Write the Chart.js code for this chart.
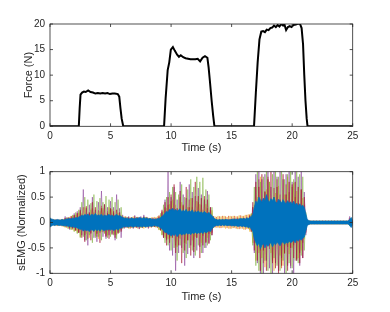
<!DOCTYPE html>
<html>
<head>
<meta charset="utf-8">
<script src="https://cdn.jsdelivr.net/npm/chart.js@4.4.1/dist/chart.umd.min.js"></script>
<style>
    html, body { margin: 0; padding: 0; background: #fff; }
    .box { position: absolute; left: 0; width: 390px; height: 156px; }
    #topBox { top: 0; }
    #bottomBox { top: 156px; }
</style>
</head>
<body>
<div class="box" id="topBox"><canvas id="forceChart" width="390" height="156"></canvas></div>
<div class="box" id="bottomBox"><canvas id="emgChart" width="390" height="156"></canvas></div>
<script>
// Force trace (N) vs time (s)
const forceTime = [0, 2.38, 2.45, 2.52, 2.65, 2.8, 2.95, 3.15, 3.35, 3.55, 3.75, 3.95, 4.15, 4.35, 4.55, 4.75, 4.95, 5.15, 5.35, 5.6, 5.72, 5.82, 5.92, 6.05,
    9.42, 9.55, 9.72, 9.85, 9.98, 10.15, 10.3, 10.5, 10.65, 10.8, 11.0, 11.2, 11.4, 11.6, 11.8, 12.0, 12.2, 12.4, 12.6, 12.8, 13.0, 13.1, 13.2, 13.35, 13.48, 13.58,
    16.85, 17.0, 17.15, 17.3, 17.45, 17.6, 17.75, 17.9, 18.05, 18.2, 18.35, 18.5, 18.65, 18.8, 18.95, 19.1, 19.25, 19.35, 19.5, 19.65, 19.8, 19.95, 20.1, 20.3, 20.5, 20.65, 20.78, 20.9, 21.0, 21.1, 21.2, 21.27, 25];
const forceValue = [0, 0, 3.5, 6.2, 6.6, 6.8, 6.7, 7.0, 6.7, 6.6, 6.4, 6.5, 6.4, 6.5, 6.4, 6.5, 6.3, 6.4, 6.4, 6.3, 5.8, 3.5, 1.5, 0,
    0, 5.5, 11.0, 12.5, 15.0, 15.5, 14.8, 14.0, 13.6, 13.9, 13.5, 13.3, 13.2, 13.1, 13.1, 13.1, 13.2, 12.7, 13.4, 13.7, 13.4, 11.5, 9.0, 5.0, 2.0, 0,
    0, 6.5, 12.5, 17.0, 18.5, 18.6, 18.4, 18.9, 18.8, 19.2, 19.3, 19.7, 19.4, 19.8, 19.5, 20.0, 19.7, 20.0, 18.8, 19.4, 19.6, 19.4, 19.8, 19.9, 20.1, 20.0, 19.2, 16.0, 10.0, 5.0, 1.5, 0, 0];

// sEMG channels, one sample every 0.125 s from 0 to 25 s (each row = 2.5 s)
const emgStep = 0.125;
const blueHi = [
    0.09, 0.07, 0.06, 0.05, 0.05, 0.06, 0.05, 0.05, 0.06, 0.05, 0.06, 0.07, 0.07, 0.08, 0.07, 0.09, 0.08, 0.10, 0.09, 0.11,
    0.12, 0.15, 0.13, 0.16, 0.14, 0.17, 0.13, 0.15, 0.16, 0.14, 0.18, 0.13, 0.15, 0.14, 0.16, 0.12, 0.15, 0.13, 0.14, 0.16,
    0.13, 0.15, 0.12, 0.14, 0.16, 0.13, 0.14, 0.12, 0.10, 0.09, 0.08, 0.09, 0.07, 0.08, 0.09, 0.08, 0.07, 0.09, 0.08, 0.10,
    0.09, 0.08, 0.10, 0.08, 0.09, 0.07, 0.08, 0.07, 0.06, 0.07, 0.06, 0.08, 0.07, 0.10, 0.12, 0.15, 0.18, 0.22, 0.20, 0.26,
    0.24, 0.28, 0.23, 0.26, 0.22, 0.25, 0.27, 0.21, 0.24, 0.22, 0.26, 0.20, 0.23, 0.21, 0.25, 0.19, 0.22, 0.20, 0.23, 0.19,
    0.21, 0.18, 0.22, 0.19, 0.17, 0.20, 0.16, 0.14, 0.10, 0.07, 0.06, 0.05, 0.06, 0.05, 0.06, 0.05, 0.06, 0.06, 0.05, 0.06,
    0.06, 0.07, 0.06, 0.07, 0.06, 0.07, 0.08, 0.07, 0.08, 0.07, 0.09, 0.08, 0.10, 0.12, 0.16, 0.30, 0.42, 0.38, 0.50, 0.45,
    0.40, 0.48, 0.42, 0.55, 0.44, 0.40, 0.47, 0.43, 0.50, 0.41, 0.38, 0.46, 0.42, 0.39, 0.45, 0.40, 0.37, 0.43, 0.38, 0.41,
    0.36, 0.42, 0.35, 0.38, 0.33, 0.37, 0.32, 0.34, 0.30, 0.18, 0.06, 0.04, 0.03, 0.03, 0.03, 0.03, 0.03, 0.03, 0.03, 0.03,
    0.03, 0.03, 0.03, 0.03, 0.03, 0.03, 0.03, 0.03, 0.03, 0.03, 0.03, 0.03, 0.03, 0.03, 0.03, 0.03, 0.03, 0.03, 0.06, 0.10,
    0.04];
const blueLo = [
    -0.09, -0.07, -0.05, -0.06, -0.05, -0.05, -0.06, -0.05, -0.06, -0.06, -0.07, -0.06, -0.08, -0.07, -0.09, -0.08, -0.10, -0.09, -0.11, -0.12,
    -0.14, -0.13, -0.17, -0.14, -0.16, -0.15, -0.18, -0.14, -0.15, -0.17, -0.13, -0.16, -0.14, -0.17, -0.13, -0.15, -0.16, -0.14, -0.15, -0.13,
    -0.15, -0.13, -0.16, -0.14, -0.13, -0.15, -0.12, -0.11, -0.10, -0.08, -0.09, -0.08, -0.09, -0.07, -0.08, -0.09, -0.08, -0.07, -0.09, -0.08,
    -0.08, -0.09, -0.07, -0.09, -0.08, -0.08, -0.07, -0.08, -0.07, -0.06, -0.07, -0.07, -0.08, -0.11, -0.13, -0.16, -0.20, -0.19, -0.24, -0.22,
    -0.27, -0.23, -0.26, -0.22, -0.28, -0.24, -0.21, -0.25, -0.22, -0.24, -0.20, -0.23, -0.21, -0.24, -0.20, -0.22, -0.19, -0.22, -0.20, -0.21,
    -0.19, -0.22, -0.18, -0.20, -0.19, -0.16, -0.18, -0.13, -0.09, -0.07, -0.06, -0.06, -0.05, -0.06, -0.05, -0.06, -0.05, -0.06, -0.06, -0.05,
    -0.07, -0.06, -0.07, -0.06, -0.08, -0.07, -0.07, -0.08, -0.07, -0.09, -0.08, -0.10, -0.09, -0.13, -0.18, -0.32, -0.40, -0.46, -0.40, -0.52,
    -0.45, -0.41, -0.50, -0.43, -0.47, -0.42, -0.40, -0.48, -0.41, -0.44, -0.39, -0.42, -0.46, -0.40, -0.38, -0.43, -0.39, -0.41, -0.37, -0.40,
    -0.38, -0.35, -0.40, -0.33, -0.37, -0.32, -0.35, -0.31, -0.29, -0.17, -0.06, -0.04, -0.03, -0.03, -0.03, -0.03, -0.03, -0.03, -0.03, -0.03,
    -0.03, -0.03, -0.03, -0.03, -0.03, -0.03, -0.03, -0.03, -0.03, -0.03, -0.03, -0.03, -0.03, -0.03, -0.03, -0.03, -0.03, -0.03, -0.06, -0.10,
    -0.04];
const purpleCh = [
    0.05, -0.06, 0.04, -0.05, 0.06, -0.04, 0.05, -0.06, 0.05, -0.07, 0.12, -0.08, 0.10, -0.14, 0.09, -0.12, 0.18, -0.15, 0.22, -0.20,
    0.30, -0.25, 0.65, -0.35, 0.28, -0.45, 0.35, -0.22, 0.50, -0.30, 0.25, -0.38, 0.40, -0.20, 0.62, -0.28, 0.35, -0.32, 0.30, -0.25,
    0.42, -0.22, 0.30, -0.35, 0.55, -0.20, 0.28, -0.30, 0.15, -0.12, 0.10, -0.08, 0.12, -0.10, 0.08, -0.12, 0.14, -0.09, 0.10, -0.13,
    0.12, -0.10, 0.15, -0.08, 0.10, -0.12, 0.08, -0.07, 0.09, -0.08, 0.07, -0.09, 0.10, -0.15, 0.20, -0.30, 0.45, -0.35, 1.00, -0.55,
    0.50, -0.65, 0.70, -0.95, 0.45, -0.60, 0.80, -0.50, 0.55, -0.85, 0.48, -0.62, 0.75, -0.45, 0.60, -0.70, 0.52, -0.55, 0.68, -0.48,
    0.55, -0.60, 0.45, -0.50, 0.62, -0.40, 0.30, -0.25, 0.12, -0.08, 0.06, -0.07, 0.05, -0.06, 0.07, -0.05, 0.06, -0.07, 0.05, -0.06,
    0.07, -0.06, 0.08, -0.07, 0.06, -0.08, 0.07, -0.06, 0.09, -0.08, 0.10, -0.09, 0.12, -0.15, 0.30, -0.60, 0.95, -0.80, 1.10, -1.05,
    0.85, -1.10, 0.95, -0.75, 1.10, -0.90, 0.70, -1.10, 1.05, -0.80, 0.90, -0.95, 1.10, -0.70, 0.85, -1.05, 0.95, -0.85, 1.10, -0.90,
    0.80, -1.05, 1.10, -0.75, 0.90, -0.85, 1.05, -0.70, 0.60, -0.25, 0.06, -0.04, 0.03, -0.03, 0.03, -0.03, 0.03, -0.03, 0.03, -0.03,
    0.03, -0.03, 0.03, -0.03, 0.03, -0.03, 0.03, -0.03, 0.03, -0.03, 0.03, -0.03, 0.03, -0.03, 0.03, -0.03, 0.03, -0.03, 0.12, -0.08,
    0.04];
const greenCh = [
    -0.05, 0.04, -0.05, 0.06, -0.04, 0.05, -0.06, 0.05, -0.07, 0.06, -0.09, 0.10, -0.12, 0.09, -0.14, 0.15, -0.18, 0.20, -0.22, 0.25,
    -0.30, 0.40, -0.28, 0.50, -0.35, 0.45, -0.25, 0.38, -0.40, 0.55, -0.30, 0.42, -0.28, 0.48, -0.35, 0.40, -0.22, 0.52, -0.30, 0.45,
    -0.28, 0.50, -0.25, 0.40, -0.32, 0.45, -0.20, 0.30, -0.12, 0.10, -0.09, 0.10, -0.11, 0.08, -0.10, 0.09, -0.08, 0.10, -0.09, 0.08,
    -0.10, 0.08, -0.09, 0.10, -0.08, 0.09, -0.07, 0.08, -0.08, 0.07, -0.09, 0.08, -0.14, 0.18, -0.25, 0.35, -0.40, 0.50, -0.45, 0.60,
    -0.55, 0.70, -0.50, 0.60, -0.75, 0.55, -0.45, 0.75, -0.60, 0.50, -0.70, 0.65, -0.50, 0.85, -0.55, 0.70, -0.65, 0.90, -0.45, 0.80,
    -0.60, 0.88, -0.50, 0.65, -0.45, 0.55, -0.35, 0.30, -0.10, 0.07, -0.06, 0.05, -0.07, 0.06, -0.05, 0.07, -0.06, 0.05, -0.07, 0.06,
    -0.06, 0.07, -0.08, 0.06, -0.07, 0.08, -0.06, 0.09, -0.08, 0.07, -0.10, 0.09, -0.14, 0.18, -0.45, 0.70, -0.85, 1.10, -0.95, 0.80,
    -1.10, 0.90, -0.75, 1.10, -0.95, 0.80, -1.10, 0.95, -0.70, 1.05, -0.85, 0.90, -0.95, 1.10, -0.75, 0.85, -1.00, 0.95, -0.80, 1.05,
    -0.90, 0.85, -0.75, 1.10, -0.80, 0.95, -0.65, 0.90, -0.55, 0.20, -0.05, 0.03, -0.03, 0.03, -0.03, 0.03, -0.03, 0.03, -0.03, 0.03,
    -0.03, 0.03, -0.03, 0.03, -0.03, 0.03, -0.03, 0.03, -0.03, 0.03, -0.03, 0.03, -0.03, 0.03, -0.03, 0.03, -0.03, 0.03, -0.07, 0.09,
    -0.04];
const redCh = [
    0.04, -0.03, 0.05, -0.04, 0.03, -0.05, 0.04, -0.05, 0.06, -0.05, 0.08, -0.07, 0.09, -0.10, 0.12, -0.11, 0.14, -0.16, 0.18, -0.20,
    0.25, -0.30, 0.12, -0.38, 0.32, -0.15, 0.20, -0.35, 0.40, -0.18, 0.30, -0.22, 0.15, -0.40, 0.28, -0.12, 0.36, -0.28, 0.18, -0.32,
    0.28, -0.24, 0.22, -0.30, 0.25, -0.22, 0.20, -0.18, 0.10, -0.09, 0.08, -0.10, 0.09, -0.08, 0.10, -0.09, 0.08, -0.10, 0.09, -0.08,
    0.08, -0.09, 0.10, -0.08, 0.09, -0.07, 0.08, -0.09, 0.07, -0.08, 0.08, -0.07, 0.12, -0.15, 0.25, -0.30, 0.40, -0.45, 0.50, -0.40,
    0.55, -0.30, 0.75, -0.60, 0.28, -0.45, 0.62, -0.80, 0.35, -0.55, 0.70, -0.35, 0.30, -0.65, 0.48, -0.58, 0.80, -0.30, 0.52, -0.70,
    0.48, -0.45, 0.52, -0.40, 0.45, -0.42, 0.30, -0.25, 0.09, -0.07, 0.06, -0.05, 0.06, -0.07, 0.05, -0.06, 0.07, -0.05, 0.06, -0.07,
    0.06, -0.07, 0.07, -0.06, 0.08, -0.07, 0.07, -0.08, 0.09, -0.08, 0.09, -0.10, 0.14, -0.18, 0.40, -0.55, 0.80, -0.75, 0.70, -0.95,
    0.95, -0.55, 0.60, -0.95, 0.85, -0.45, 1.05, -0.80, 0.50, -0.90, 0.70, -1.05, 0.45, -0.85, 0.95, -0.60, 0.55, -0.95, 0.80, -0.50,
    0.75, -0.70, 0.80, -0.75, 0.70, -0.80, 0.65, -0.70, 0.50, -0.20, 0.05, -0.03, 0.03, -0.03, 0.03, -0.03, 0.03, -0.03, 0.03, -0.03,
    0.03, -0.03, 0.03, -0.03, 0.03, -0.03, 0.03, -0.03, 0.03, -0.03, 0.03, -0.03, 0.03, -0.03, 0.03, -0.03, 0.03, -0.03, 0.08, -0.06,
    0.04];
const orangeCh = [
    0.06, -0.05, 0.07, -0.06, 0.06, -0.07, 0.06, -0.06, 0.07, -0.08, 0.09, -0.10, 0.10, -0.12, 0.13, -0.14, 0.15, -0.16, 0.18, -0.20,
    0.22, -0.14, 0.30, -0.25, 0.12, -0.32, 0.18, -0.20, 0.28, -0.12, 0.16, -0.28, 0.24, -0.15, 0.33, -0.19, 0.14, -0.26, 0.22, -0.17,
    0.27, -0.13, 0.18, -0.24, 0.12, -0.20, 0.15, -0.15, 0.12, -0.11, 0.12, -0.10, 0.11, -0.12, 0.10, -0.11, 0.12, -0.10, 0.11, -0.12,
    0.10, -0.11, 0.12, -0.10, 0.11, -0.10, 0.09, -0.10, 0.10, -0.09, 0.10, -0.11, 0.14, -0.16, 0.22, -0.25, 0.30, -0.32, 0.35, -0.30,
    0.42, -0.22, 0.28, -0.45, 0.18, -0.30, 0.50, -0.25, 0.32, -0.40, 0.20, -0.35, 0.45, -0.18, 0.30, -0.48, 0.24, -0.30, 0.40, -0.22,
    0.35, -0.26, 0.20, -0.38, 0.28, -0.22, 0.25, -0.20, 0.12, -0.10, 0.11, -0.10, 0.12, -0.11, 0.13, -0.10, 0.12, -0.11, 0.13, -0.12,
    0.12, -0.11, 0.13, -0.12, 0.12, -0.13, 0.14, -0.12, 0.13, -0.14, 0.15, -0.13, 0.16, -0.18, 0.30, -0.40, 0.70, -0.35, 0.85, -0.55,
    0.45, -0.80, 0.62, -0.35, 0.90, -0.52, 0.40, -0.75, 0.68, -0.45, 0.85, -0.30, 0.55, -0.90, 0.40, -0.62, 0.75, -0.48, 0.60, -0.85,
    0.70, -0.45, 0.50, -0.72, 0.38, -0.60, 0.65, -0.40, 0.35, -0.15, 0.05, -0.04, 0.04, -0.04, 0.04, -0.04, 0.04, -0.04, 0.04, -0.04,
    0.04, -0.04, 0.04, -0.04, 0.04, -0.04, 0.04, -0.04, 0.04, -0.04, 0.04, -0.04, 0.04, -0.04, 0.04, -0.04, 0.04, -0.04, 0.07, -0.06,
    0.04];
const yellowCh = [
    -0.06, 0.07, -0.06, 0.05, -0.07, 0.06, -0.07, 0.06, -0.08, 0.07, -0.10, 0.09, -0.12, 0.11, -0.14, 0.13, -0.17, 0.15, -0.20, 0.19,
    -0.28, 0.18, -0.15, 0.30, -0.22, 0.12, -0.30, 0.25, -0.14, 0.20, -0.26, 0.15, -0.32, 0.22, -0.18, 0.28, -0.20, 0.13, -0.25, 0.30,
    -0.16, 0.26, -0.22, 0.14, -0.25, 0.19, -0.16, 0.15, -0.11, 0.12, -0.10, 0.11, -0.12, 0.10, -0.11, 0.12, -0.10, 0.11, -0.12, 0.10,
    -0.11, 0.10, -0.12, 0.11, -0.10, 0.09, -0.10, 0.10, -0.09, 0.11, -0.10, 0.12, -0.15, 0.14, -0.24, 0.22, -0.30, 0.28, -0.33, 0.36,
    -0.30, 0.45, -0.20, 0.35, -0.48, 0.22, -0.32, 0.40, -0.25, 0.18, -0.42, 0.30, -0.20, 0.48, -0.35, 0.25, -0.28, 0.42, -0.18, 0.36,
    -0.40, 0.25, -0.22, 0.36, -0.30, 0.20, -0.22, 0.24, -0.11, 0.12, -0.10, 0.13, -0.11, 0.12, -0.10, 0.13, -0.12, 0.11, -0.12, 0.13,
    -0.12, 0.13, -0.11, 0.12, -0.13, 0.14, -0.12, 0.13, -0.14, 0.15, -0.13, 0.16, -0.18, 0.17, -0.40, 0.35, -0.75, 0.50, -0.60, 0.90,
    -0.70, 0.40, -0.88, 0.65, -0.35, 0.80, -0.60, 0.45, -0.95, 0.58, -0.40, 0.72, -0.65, 0.35, -0.85, 0.55, -0.45, 0.90, -0.62, 0.40,
    -0.50, 0.78, -0.40, 0.62, -0.70, 0.35, -0.55, 0.48, -0.32, 0.14, -0.04, 0.04, -0.04, 0.04, -0.04, 0.04, -0.04, 0.04, -0.04, 0.04,
    -0.04, 0.04, -0.04, 0.04, -0.04, 0.04, -0.04, 0.04, -0.04, 0.04, -0.04, 0.04, -0.04, 0.04, -0.04, 0.04, -0.04, 0.04, -0.06, 0.07,
    -0.04];

const timeTicks = [0, 5, 10, 15, 20, 25];

const axisColor = '#262626';
const fontFamily = '"Liberation Sans", Arial, sans-serif';

function toPoints(xs, ys) {
    return ys.map((y, i) => ({ x: xs[i], y: y }));
}
function emgPoints(ys) {
    return ys.map((y, i) => ({ x: i * emgStep, y: y }));
}

// MATLAB-like box with inward ticks on all four sides
const boxPlugin = {
    id: 'matlabBox',
    afterDatasetsDraw(chart) {
        const ctx = chart.ctx;
        const a = chart.chartArea;
        const xs = chart.scales.x, ys = chart.scales.y;
        ctx.save();
        ctx.strokeStyle = axisColor;
        ctx.lineWidth = 0.8;
        ctx.strokeRect(a.left, a.top, a.right - a.left, a.bottom - a.top);
        const len = 3;
        ctx.beginPath();
        xs.ticks.forEach(t => {
            const px = xs.getPixelForValue(t.value);
            ctx.moveTo(px, a.bottom); ctx.lineTo(px, a.bottom - len);
            ctx.moveTo(px, a.top); ctx.lineTo(px, a.top + len);
        });
        ys.ticks.forEach(t => {
            const py = ys.getPixelForValue(t.value);
            ctx.moveTo(a.left, py); ctx.lineTo(a.left + len, py);
            ctx.moveTo(a.right, py); ctx.lineTo(a.right - len, py);
        });
        ctx.stroke();
        ctx.restore();
    }
};

function makeScales(yMin, yMax, yStep, yTitle, yTitlePad, xTitlePad) {
    return {
        x: {
            type: 'linear', min: 0, max: 25,
            afterBuildTicks: s => { s.ticks = timeTicks.map(v => ({ value: v })); },
            grid: { display: false, drawTicks: false },
            border: { display: false },
            ticks: { color: axisColor, font: { family: fontFamily, size: 10 }, padding: 4, maxRotation: 0 },
            title: { display: true, text: 'Time (s)', color: axisColor, font: { family: fontFamily, size: 11 }, padding: { top: 1, bottom: xTitlePad } }
        },
        y: {
            type: 'linear', min: yMin, max: yMax,
            ticks: { stepSize: yStep, color: axisColor, font: { family: fontFamily, size: 10 }, padding: 5, callback: v => String(v) },
            grid: { display: false, drawTicks: false },
            border: { display: false },
            title: { display: true, text: yTitle, color: axisColor, font: { family: fontFamily, size: 11 }, padding: { top: yTitlePad, bottom: 0 } },
            afterFit: s => { s.width = 50; }
        }
    };
}

const forceScales = makeScales(0, 20, 5, 'Force (N)', 22, 1);
forceScales.x.afterFit = s => { s.height = 29.7; };

new Chart(document.getElementById('forceChart'), {
    type: 'line',
    data: {
        datasets: [{
            data: toPoints(forceTime, forceValue),
            borderColor: '#000000',
            borderWidth: 2,
            pointRadius: 0,
            tension: 0
        }]
    },
    options: {
        responsive: false,
        animation: false,
        layout: { padding: { top: 24, right: 37.3, left: 0, bottom: 0 } },
        plugins: { legend: { display: false }, tooltip: { enabled: false } },
        scales: forceScales
    },
    plugins: [boxPlugin]
});

const emgScales = makeScales(-1, 1, 0.5, 'sEMG (Normalized)', 15, 8);
emgScales.x.afterFit = s => { s.height = 38.7; };

function emgLine(values, color) {
    return { data: emgPoints(values), borderColor: color, borderWidth: 0.5, pointRadius: 0, tension: 0, fill: false };
}

new Chart(document.getElementById('emgChart'), {
    type: 'line',
    data: {
        datasets: [
            { data: emgPoints(blueHi), borderColor: '#0072BD', backgroundColor: '#0072BD', borderWidth: 0.7, pointRadius: 0, tension: 0, fill: '+1' },
            { data: emgPoints(blueLo), borderColor: '#0072BD', borderWidth: 0.7, pointRadius: 0, tension: 0, fill: false },
            emgLine(redCh, '#A2142F'),
            emgLine(greenCh, '#77AC30'),
            emgLine(purpleCh, '#7E2F8E'),
            emgLine(yellowCh, '#EDB120'),
            emgLine(orangeCh, '#D95319')
        ]
    },
    options: {
        responsive: false,
        animation: false,
        layout: { padding: { top: 15.7, right: 37.3, left: 0, bottom: 0 } },
        plugins: { legend: { display: false }, tooltip: { enabled: false } },
        scales: emgScales
    },
    plugins: [boxPlugin]
});
</script>
</body>
</html>
